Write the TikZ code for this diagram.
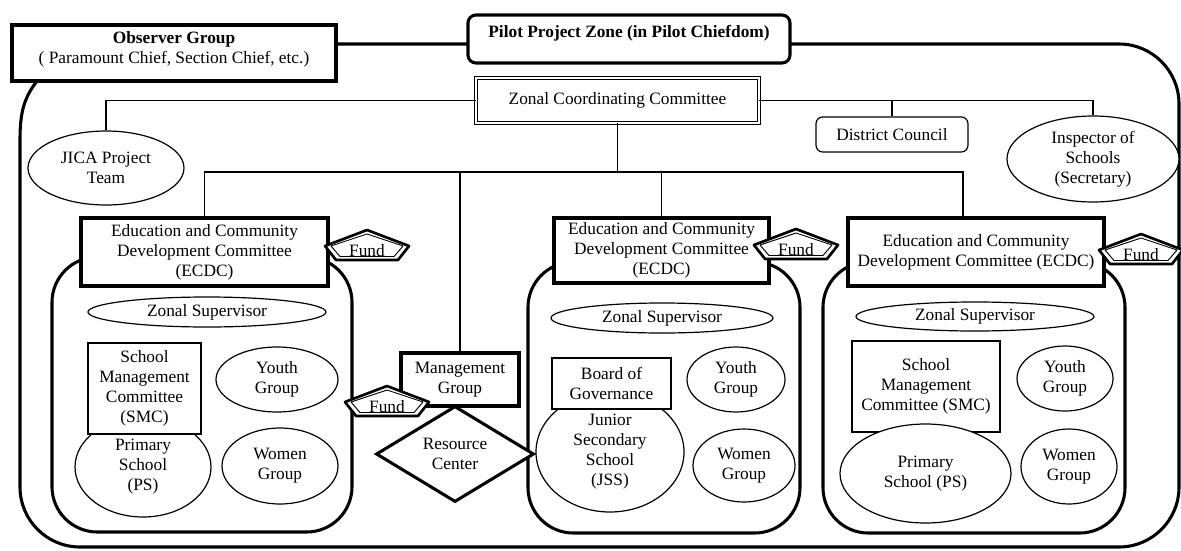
\documentclass[tikz,border=0pt]{standalone}
\usepackage{fontspec}
\setmainfont{Liberation Serif}
\usepackage{tikz}
\usetikzlibrary{shapes.geometric,calc}

\newcommand{\pxu}{0.75pt}
\newcommand{\fund}[3]{%
  \coordinate (#1) at (#2,#3);
  \filldraw[fundedge] ($(#1)+(0,-16)$) -- ($(#1)+(42,0)$) -- ($(#1)+(31,14)$) -- ($(#1)+(-31,14)$) -- ($(#1)+(-42,0)$) -- cycle;
  \draw[fundinner] ($(#1)+(0,-12)$) -- ($(#1)+(36,0)$) -- ($(#1)+(27,10.5)$) -- ($(#1)+(-27,10.5)$) -- ($(#1)+(-36,0)$) -- cycle;
  \node[anchor=base, inner sep=0pt] (#1-text) at ($(#1)+(0,10.5)$) {Fund};
}

\begin{document}
\begin{tikzpicture}[x=0.75pt, y=-0.75pt,
    every node/.append style={font=\fontsize{13}{15}\selectfont, align=center},
    sized/.style 2 args={minimum width=#1*\pxu, minimum height=#2*\pxu, inner sep=0pt},
    thickbox/.style={draw, rectangle, fill=white, line width=2.3pt},
    thinbox/.style={draw, rectangle, fill=white, line width=0.9pt},
    oval/.style={draw, ellipse, fill=white, line width=0.9pt},
    link/.style={line width=0.9pt},
    zoneline/.style={line width=2.3pt, line join=round},
    fundedge/.style={fill=white, line width=2pt, line join=round},
    fundinner/.style={line width=0.7pt, line join=round}]
\useasboundingbox (0,0) rectangle (1181,550);

\draw[zoneline] (37,81) .. controls (24,98) and (20,112) .. (20,140) [rounded corners=45pt] -- (20,547) -- (1179,547) -- (1179,44) -- (330,44);
\draw[zoneline, rounded corners=34pt] (52,257) rectangle (352,532);
\draw[zoneline, rounded corners=34pt] (528,262) rectangle (800,533);
\draw[zoneline, rounded corners=34pt] (823,262) rectangle (1125,533);

\node[thickbox, sized={324}{56}, text depth=9pt] (obs) at (174,53) {\textbf{Observer Group}\\( Paramount Chief, Section Chief, etc.)};
\node[thickbox, rounded corners=6pt, sized={322}{48}, text depth=11pt] (pilot) at (629,39) {\textbf{Pilot Project Zone (in Pilot Chiefdom)}};
\node[draw, rectangle, fill=white, line width=0.7pt, double, double distance=2.2pt, sized={283}{45}] (zcc) at (617.5,100.5) {Zonal Coordinating Committee};
\node[oval, sized={156}{74}] (jica) at (106,168) {JICA Project\\Team};
\node[thinbox, rounded corners=5pt, sized={152}{35}] (dc) at (892,134.5) {District Council};
\node[oval, sized={172}{86}] (insp) at (1093,159) {Inspector of\\Schools\\(Secretary)};

\node[thickbox, sized={247}{68}] (ecdc1) at (204.5,252) {Education and Community\\Development Committee\\(ECDC)};
\node[oval, sized={238}{30}] (zs1) at (207,312) {Zonal Supervisor};
\node[oval, sized={136}{100}] (ps1) at (143,467) {Primary\\School\\(PS)};
\node[thinbox, sized={113}{91}] (smc1) at (144.5,388.5) {School\\Management\\Committee\\(SMC)};
\node[oval, sized={122}{65}] (youth1) at (277,379.5) {Youth\\Group};
\node[oval, sized={116}{76}] (women1) at (280,466) {Women\\Group};

\node[thickbox, sized={118}{53}] (mgmt) at (460,379.5) {Management\\Group};
\node[draw, diamond, fill=white, line width=2.3pt, sized={158}{92}] (rc) at (455,454) {Resource\\Center};

\node[thickbox, sized={215}{65}] (ecdc2) at (661.5,250.5) {Education and Community\\Development Committee\\(ECDC)};
\node[oval, sized={222}{30}] (zs2) at (662,318) {Zonal Supervisor};
\node[oval, sized={148}{120}] (jss) at (610,452) {Junior\\Secondary\\School\\(JSS)};
\node[thinbox, sized={119}{51}] (bog) at (611.5,383.5) {Board of\\Governance};
\node[oval, sized={98}{65}] (youth2) at (736,379.5) {Youth\\Group};
\node[oval, sized={102}{73}] (women2) at (744,465.5) {Women\\Group};

\node[thickbox, sized={256}{68}] (ecdc3) at (976,252) {Education and Community\\Development Committee (ECDC)};
\node[oval, sized={238}{29}] (zs3) at (975,316.5) {Zonal Supervisor};
\node[thinbox, sized={148}{91}] (smc3) at (926,386.5) {School\\Management\\Committee (SMC)};
\node[oval, sized={171}{99}] (ps3) at (925.5,473.5) {Primary\\School (PS)};
\node[oval, sized={96}{65}] (youth3) at (1065,378.5) {Youth\\Group};
\node[oval, sized={96}{75}] (women3) at (1069,466.5) {Women\\Group};

\coordinate (bus) at (617.5,172);
\draw[link] (jica.north) |- (zcc.west);
\draw[link] (zcc.east) -| (insp.north);
\draw[link] (dc.north) -- (dc.north |- zcc.east);
\draw[link] (zcc.south) -- (bus);
\draw[link] (ecdc1.north) |- (bus) -| ($(ecdc3.north)+(-13,0)$);
\draw[link] (mgmt.north) -- (mgmt.north |- bus);
\draw[link] (ecdc2.north) -- (ecdc2.north |- bus);

\fund{fundA}{367}{246}
\fund{fundM}{387}{402}
\fund{fundB}{796}{245}
\fund{fundC}{1141}{250}
\end{tikzpicture}
\end{document}
